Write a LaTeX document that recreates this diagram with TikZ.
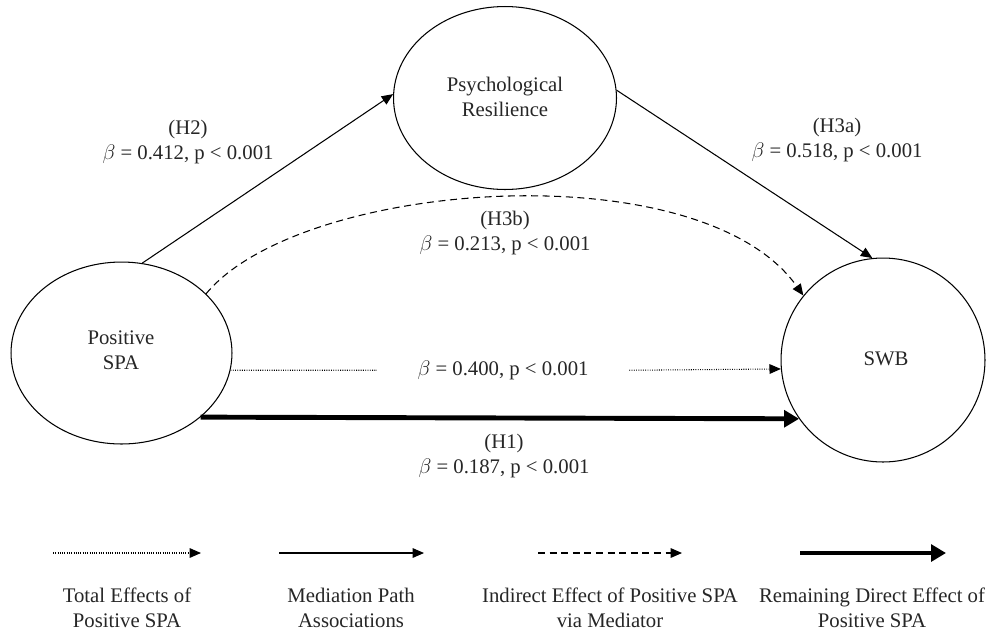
\documentclass[tikz,border=0pt]{standalone}
\usepackage{fontspec}
\setmainfont{Liberation Serif}
\usetikzlibrary{shapes.geometric,arrows.meta}
\tikzset{
  lbl/.style={font=\fontsize{11.8}{14.5}\selectfont, align=center, inner sep=0pt, text=black!85},
  var/.style={draw, ellipse, line width=0.6pt, inner sep=0pt},
  thinarrow/.style={line width=0.6pt, -{Triangle[length=6.5pt,width=5.5pt]}},
  dottedarrow/.style={thinarrow, dash pattern=on 0.5pt off 0.8pt},
  dashedarrow/.style={thinarrow, dash pattern=on 4pt off 2.6pt},
  thickarrow/.style={line width=2.8pt, -{Triangle[length=8.5pt,width=9.5pt]}},
}
\begin{document}
\begin{tikzpicture}[x=0.02cm,y=-0.02cm]
\useasboundingbox (0,0) rectangle (986,633);
% variables
\node[var, minimum width=4.42cm, minimum height=3.64cm] (spa) at (121.5,353) {};
\node[lbl] (spat) at (121,350) {Positive\\SPA};
\node[var, minimum width=4.46cm, minimum height=3.66cm] (pr) at (505,98) {};
\node[lbl] (prt) at (505,97) {Psychological\\Resilience};
\node[var, minimum width=4.08cm, minimum height=4.08cm] (swb) at (883,360) {};
\node[lbl] (swbt) at (886,359) {SWB};
% paths
\draw[thinarrow] (spa.77) -- (pr.178);
\draw[thinarrow] (pr.4) -- (swb.96);
\draw[dashedarrow] (spa.35) .. controls (300,180) and (700,150) .. (swb.141);
\node[lbl, inner xsep=23pt, inner ysep=1pt] (l400) at (503,370) {$\beta$ = 0.400, p < 0.001};
\draw[dottedarrow] (spa.-9) -- (spa.-9 -| l400.west) (spa.-9 -| l400.east) -- (swb.185);
\draw[thickarrow] (spa.-39) -- (swb.215);
% labels
\node[lbl] (lh2) at (188,142) {(H2)\\$\beta$ = 0.412, p < 0.001};
\node[lbl] (lh3a) at (837,140) {(H3a)\\$\beta$ = 0.518, p < 0.001};
\node[lbl] (lh3b) at (505,233) {(H3b)\\$\beta$ = 0.213, p < 0.001};
\node[lbl] (lh1) at (504,456) {(H1)\\$\beta$ = 0.187, p < 0.001};
% legend
\coordinate (a1) at (53,553);  \coordinate (b1) at (201,553);
\coordinate (a2) at (279,553); \coordinate (b2) at (424,553);
\coordinate (a3) at (538,553); \coordinate (b3) at (682,553);
\coordinate (a4) at (800,553); \coordinate (b4) at (946,553);
\draw[dottedarrow] (a1) -- (b1);
\draw[thinarrow] (a2) -- (b2);
\draw[dashedarrow] (a3) -- (b3);
\draw[thickarrow] (a4) -- (b4);
\node[lbl] (t1) at (127,608) {Total Effects of\\Positive SPA};
\node[lbl] (t2) at (351,608) {Mediation Path\\Associations};
\node[lbl] (t3) at (610,608) {Indirect Effect of Positive SPA\\via Mediator};
\node[lbl] (t4) at (872,608) {Remaining Direct Effect of\\Positive SPA};
\end{tikzpicture}
\end{document}
